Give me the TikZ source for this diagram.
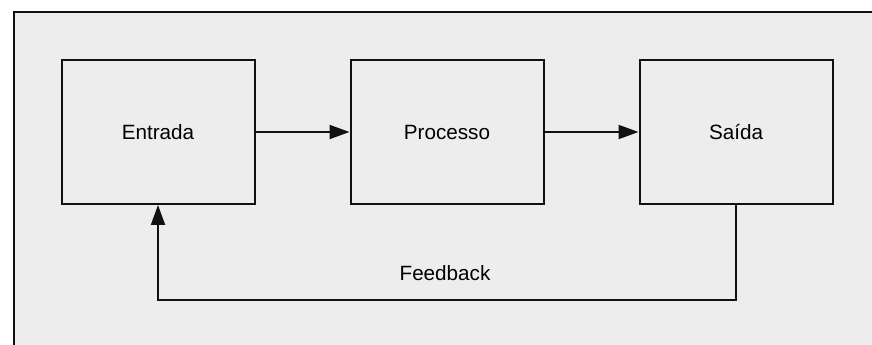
\documentclass[tikz,border=0pt]{standalone}
\usepackage{fontspec}
\setmainfont{Liberation Sans}
\usetikzlibrary{arrows.meta}
\definecolor{bg}{HTML}{EDEDED}
\definecolor{ink}{HTML}{111111}
\begin{document}
\begin{tikzpicture}[x=0.75pt,y=-0.75pt,
  blockbox/.style={draw=ink,fill=bg,line width=1.5pt,inner sep=0pt,
    minimum width=144.75pt,minimum height=108pt,font=\fontsize{15.5}{18}\selectfont},
  conn/.style={draw=ink,line width=1.5pt,-{Triangle[length=15pt,width=10.5pt]}},
  lbl/.style={font=\fontsize{15.5}{18}\selectfont,inner sep=0pt}]
\useasboundingbox (0,0) rectangle (872,345);
\fill[white] (0,0) rectangle (872,345);
\fill[bg] (14,12) rectangle (872,345);
\draw[ink,line width=1.5pt] (14,345) -- (14,12) -- (872,12);
\node[blockbox] (e) at (158,132) {Entrada};
\node[blockbox] (p) at (447,132) {Processo};
\node[blockbox] (s) at (736,132) {Saída};
\coordinate (fb) at (447,300);
\draw[conn] (e) -- (p);
\draw[conn] (p) -- (s);
\draw[conn] (s.south) |- (fb) -| (e.south);
\node[lbl] (fl) at (445,273) {Feedback};
\end{tikzpicture}
\end{document}
